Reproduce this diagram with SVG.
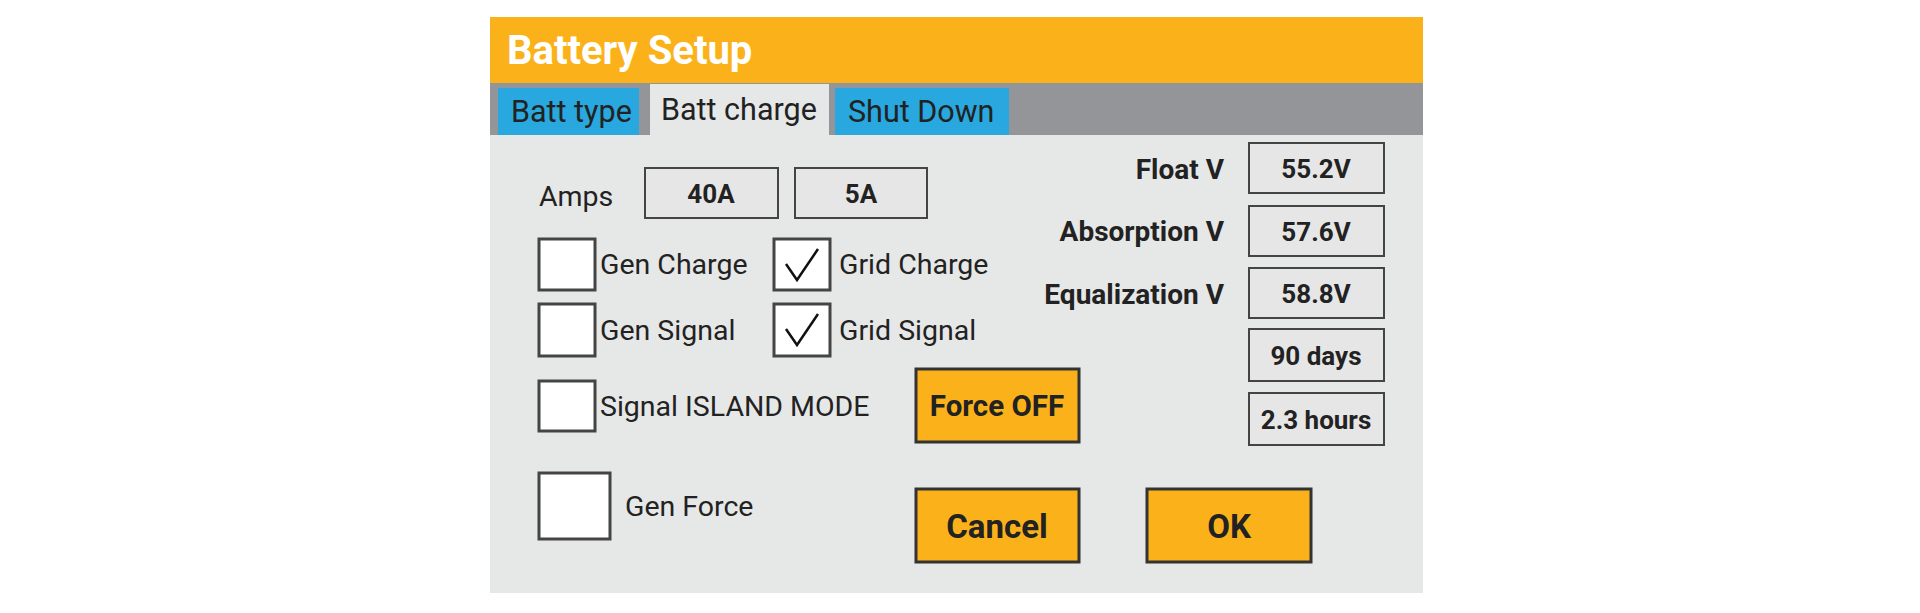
<svg xmlns="http://www.w3.org/2000/svg" width="1920" height="613" viewBox="0 0 1920 613">
<style>
text{font-family:Roboto,"Liberation Sans",sans-serif;fill:#222}
.lbl{font-size:28.5px}
.b{font-weight:bold;font-size:26px}
.rl{font-weight:bold;font-size:28px}
.box{fill:#e6e6e6;stroke:#444;stroke-width:2}
.cb{fill:#fff;stroke:#444;stroke-width:3}
.btn{fill:#fbb21a;stroke:#333;stroke-width:3}
.tab{fill:#29a7df}
</style>
<rect width="1920" height="613" fill="#fff"/>
<g id="panel">
<rect x="490" y="17" width="933" height="576" fill="#e6e7e7"/>
<rect x="490" y="17" width="933" height="66" fill="#fbb21a"/>
<text x="507" y="64" style="font-size:40px;font-weight:bold;fill:#fff">Battery Setup</text>
<rect x="490" y="83" width="933" height="52" fill="#949599"/>
</g>
<g id="tab-batt-type"><rect class="tab" x="498" y="88" width="141" height="47"/><text x="511" y="122" style="font-size:30.5px">Batt type</text></g>
<g id="tab-batt-charge"><rect x="650" y="84" width="179" height="51" fill="#e6e7e7"/><text x="661" y="120" style="font-size:30.5px">Batt charge</text></g>
<g id="tab-shut-down"><rect class="tab" x="835" y="88" width="174" height="47"/><text x="848" y="122" style="font-size:30.5px">Shut Down</text></g>
<g id="amps"><text class="lbl" x="539" y="206">Amps</text>
<rect class="box" x="645" y="168" width="133" height="50"/><text class="b" x="711" y="203" text-anchor="middle">40A</text>
<rect class="box" x="795" y="168" width="132" height="50"/><text class="b" x="861" y="203" text-anchor="middle">5A</text></g>
<g id="gen-charge"><rect class="cb" x="539" y="239" width="56" height="51"/><text class="lbl" x="600" y="274">Gen Charge</text></g>
<g id="grid-charge"><rect class="cb" x="774" y="239" width="56" height="51"/><path d="M786 264 L797 280 L818 249" fill="none" stroke="#111" stroke-width="2.5"/><text class="lbl" x="839" y="274">Grid Charge</text></g>
<g id="gen-signal"><rect class="cb" x="539" y="304" width="56" height="52"/><text class="lbl" x="600" y="340">Gen Signal</text></g>
<g id="grid-signal"><rect class="cb" x="774" y="304" width="56" height="52"/><path d="M786 329 L797 345 L818 314" fill="none" stroke="#111" stroke-width="2.5"/><text class="lbl" x="839" y="340">Grid Signal</text></g>
<g id="island"><rect class="cb" x="539" y="381" width="56" height="50"/><text class="lbl" x="600" y="416">Signal ISLAND MODE</text></g>
<g id="gen-force"><rect class="cb" x="539" y="473" width="71" height="66"/><text class="lbl" x="625" y="516">Gen Force</text></g>
<g id="force-off"><rect class="btn" x="916" y="369" width="163" height="73"/><text x="997" y="416" text-anchor="middle" style="font-size:29.5px;font-weight:bold">Force OFF</text></g>
<g id="cancel"><rect class="btn" x="916" y="489" width="163" height="73"/><text x="997" y="538" text-anchor="middle" style="font-size:33px;font-weight:bold">Cancel</text></g>
<g id="ok"><rect class="btn" x="1147" y="489" width="164" height="73"/><text x="1229" y="538" text-anchor="middle" style="font-size:33px;font-weight:bold">OK</text></g>
<g id="float"><text class="rl" x="1224" y="179" text-anchor="end">Float V</text><rect class="box" x="1249" y="143" width="135" height="50"/><text class="b" x="1316" y="178" text-anchor="middle">55.2V</text></g>
<g id="absorption"><text class="rl" x="1224" y="241" text-anchor="end">Absorption V</text><rect class="box" x="1249" y="206" width="135" height="50"/><text class="b" x="1316" y="241" text-anchor="middle">57.6V</text></g>
<g id="equalization"><text class="rl" x="1224" y="304" text-anchor="end">Equalization V</text><rect class="box" x="1249" y="268" width="135" height="50"/><text class="b" x="1316" y="303" text-anchor="middle">58.8V</text></g>
<g id="days"><rect class="box" x="1249" y="329" width="135" height="52"/><text class="b" x="1316" y="365" text-anchor="middle">90 days</text></g>
<g id="hours"><rect class="box" x="1249" y="393" width="135" height="52"/><text class="b" x="1316" y="429" text-anchor="middle">2.3 hours</text></g>
<g id="connectors"/>
</svg>
